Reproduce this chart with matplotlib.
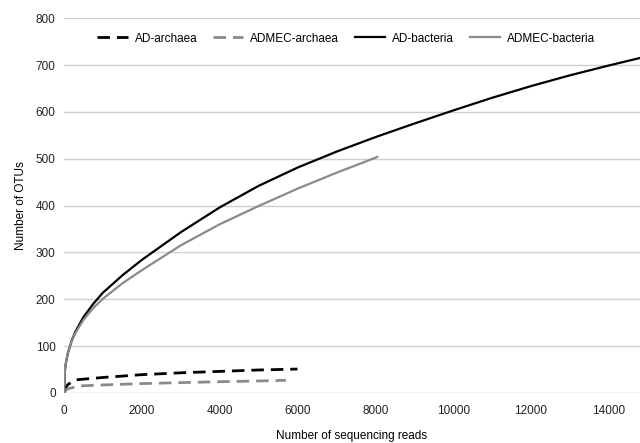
import numpy as np
import matplotlib.pyplot as plt

plt.rcParams['font.family'] = ['Liberation Sans', 'DejaVu Sans']

# rarefaction curves
ad_bac_x = [0, 25, 50, 100, 200, 300, 500, 750, 1000, 1500, 2000, 3000, 4000, 5000,
            6000, 7000, 8000, 9000, 10000, 11000, 12000, 13000, 14000, 14800]
ad_bac_y = [0, 49, 64, 85, 112, 132, 162, 190, 214, 251, 284, 343, 396, 442,
            481, 515, 546, 575, 603, 630, 655, 678, 699, 715]

admec_bac_x = [0, 25, 50, 100, 200, 300, 500, 750, 1000, 1500, 2000, 3000, 4000,
               5000, 6000, 7000, 8000, 8050]
admec_bac_y = [0, 51, 66, 86, 111, 129, 156, 181, 201, 234, 262, 315, 360,
               399, 436, 470, 502, 504]

ad_arc_x = [0, 50, 100, 300, 1000, 2000, 3000, 4000, 5000, 6000]
ad_arc_y = [0, 12, 18, 28, 33, 39, 43, 46, 49, 51]

admec_arc_x = [0, 50, 100, 400, 1000, 2000, 3000, 4000, 5000, 5700]
admec_arc_y = [0, 6, 9, 15, 17, 20, 22, 24, 25.5, 27]

xticks = list(range(0, 14001, 2000))
yticks = list(range(0, 801, 100))

fig = plt.figure(figsize=(6.4, 4.43), dpi=100)
ax = fig.add_axes([0.1, 0.113, 0.9, 0.846])

gray = '#8a8a8a'
ax.plot(ad_arc_x, ad_arc_y, color='black', lw=2, dashes=(4.5, 2.5), label='AD-archaea')
ax.plot(admec_arc_x, admec_arc_y, color=gray, lw=2, dashes=(4.5, 2.5), label='ADMEC-archaea')
ax.plot(ad_bac_x, ad_bac_y, color='black', lw=1.6, label='AD-bacteria')
ax.plot(admec_bac_x, admec_bac_y, color=gray, lw=1.6, label='ADMEC-bacteria')

ax.set_xlim(0, 14800)
ax.set_ylim(0, 800)
ax.set_xticks(xticks)
ax.set_yticks(yticks)
ax.tick_params(length=0, labelsize=8.5, colors='#222222')
ax.tick_params(axis='x', pad=9)
ax.tick_params(axis='y', pad=6)
ax.grid(axis='y', color='#d0d0d0', lw=1)
ax.set_axisbelow(True)
for s in ax.spines.values():
    s.set_visible(False)

ax.set_xlabel('Number of sequencing reads', fontsize=8.5, labelpad=9)
ax.set_ylabel('Number of OTUs', fontsize=8.5, labelpad=6)

ax.legend(loc='upper center', bbox_to_anchor=(0.49, 0.99), ncol=4, frameon=False,
          fontsize=8.5, handlelength=2.6, columnspacing=1.3, handletextpad=0.6)

fig.savefig('out.png', dpi=100)
